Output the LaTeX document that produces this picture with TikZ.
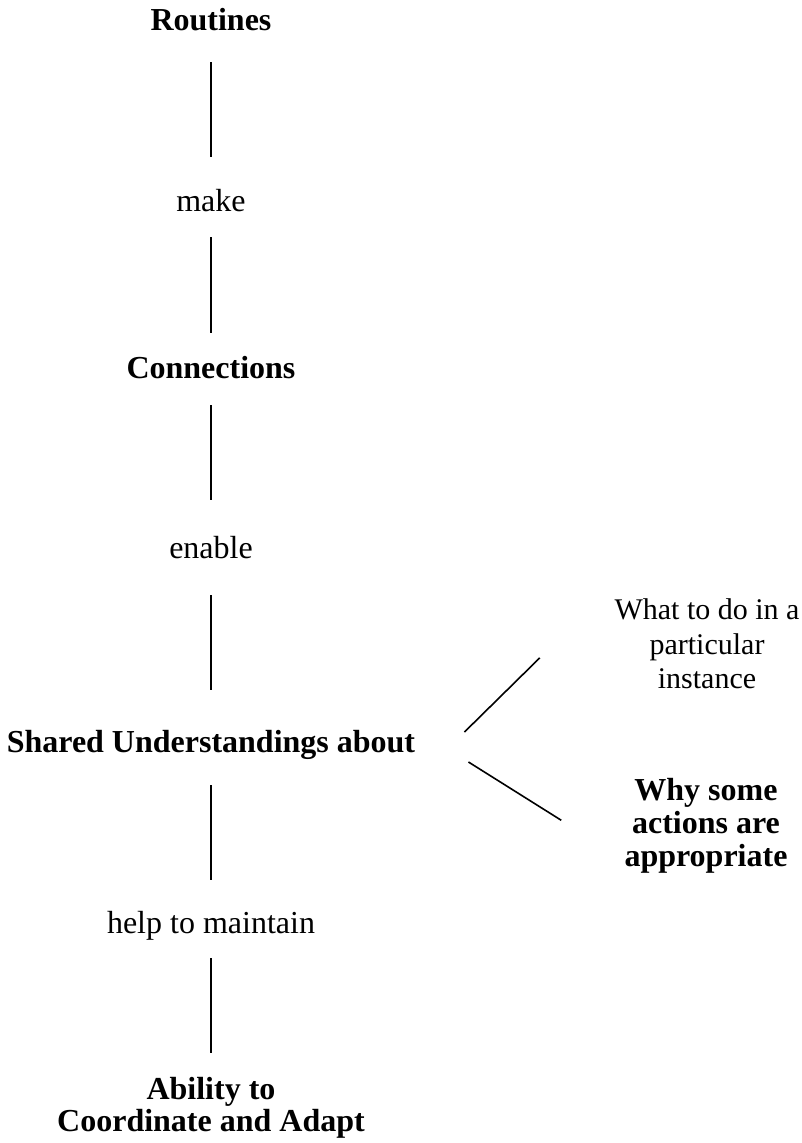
\documentclass[tikz,border=0pt]{standalone}
\usepackage{fontspec}
\setmainfont{Liberation Serif}

\begin{document}
\begin{tikzpicture}[x=0.75pt, y=-0.75pt,
  concept/.style={font=\bfseries\fontsize{24}{28}\selectfont, anchor=base, inner sep=0pt, text height=16.5pt, text depth=6pt},
  verb/.style={font=\fontsize{24}{28}\selectfont, anchor=base, inner sep=0pt, text height=16.5pt, text depth=6pt},
  conceptlines/.style={font=\bfseries\fontsize{24}{24}\selectfont, align=center, anchor=north, inner sep=0pt},
  aspect/.style={font=\fontsize{22.5}{25.9}\selectfont, align=center, anchor=north, inner sep=0pt},
  aspectbold/.style={font=\bfseries\fontsize{24}{24.75}\selectfont, align=center, anchor=north, inner sep=0pt},
  link/.style={line width=1.2pt}
]
\useasboundingbox (0,0) rectangle (801,1143);

% Main chain
\node[concept] (routines) at (211,30) {Routines};
\node[verb] (make) at (211,211) {make};
\node[concept] (connections) at (211,378) {Connections};
\node[verb] (enable) at (211,558) {enable};
\node[concept] (shared) at (211,752) {Shared Understandings about};
\node[verb] (help) at (211,933) {help to maintain};
\node[conceptlines] (ability) at (211,1077) {Ability to\\Coordinate and Adapt};

% What the understandings are about
\node[aspect] (what) at (707,598.5) {What to do in a\\particular\\instance};
\node[aspectbold] (why) at (706,778) {Why some\\actions are\\appropriate};

% Vertical links
\draw[link, shorten <=18pt, shorten >=24pt] (routines) -- (make);
\draw[link, shorten <=13.5pt, shorten >=17.25pt] (make) -- (connections);
\draw[link, shorten <=14.25pt, shorten >=27pt] (connections) -- (enable);
\draw[link, shorten <=21.75pt, shorten >=30pt] (enable) -- (shared);
\draw[link, shorten <=18.75pt, shorten >=23.25pt] (shared) -- (help);
\draw[link, shorten <=12.75pt, shorten >=18pt] (help) -- (ability);

% Branches
\draw[link] ([shift={(49,-13)}]shared.east) -- ([shift={(-74.5,14)}]what.west);
\draw[link] ([shift={(53,17)}]shared.east) -- ([shift={(-63,-5.5)}]why.west);
\end{tikzpicture}
\end{document}
